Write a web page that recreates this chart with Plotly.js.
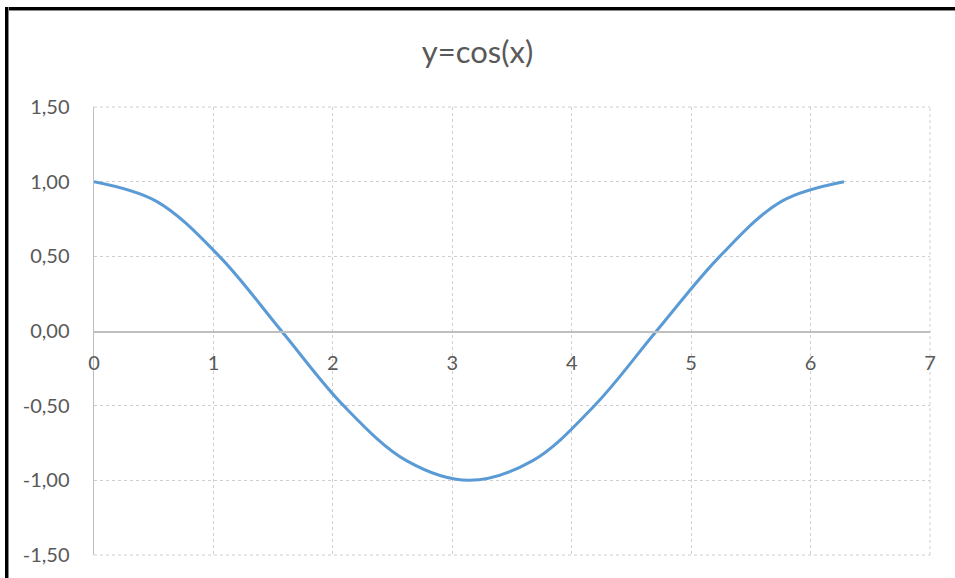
<!DOCTYPE html>
<html>
<head>
<meta charset="utf-8">
<script src="https://cdn.plot.ly/plotly-3.0.1.min.js"></script>
<style>
  html, body { margin: 0; padding: 0; background: #fff; overflow: hidden; }
  #wrap { position: relative; width: 955px; height: 578px; overflow: hidden; }
  #chart { position: absolute; left: 0; top: 0; width: 955px; height: 578px; }
  #frameTop { position: absolute; left: 5px; top: 7px; width: 950px; height: 3px; background: #000; border-bottom: 1px solid #888; pointer-events: none; }
  #frameLeft { position: absolute; left: 5px; top: 7px; width: 3px; height: 571px; background: #000; border-right: 1px solid #888; pointer-events: none; }
</style>
</head>
<body>
<div id="wrap">
  <div id="chart"></div>
  <div id="frameTop"></div>
  <div id="frameLeft"></div>
</div>
<script>
// Data (x in steps of about pi/6)
const xValues = [0, 0.52, 1.05, 1.57, 2.09, 2.62, 3.14, 3.67, 4.19, 4.71, 5.24, 5.76, 6.28];
const yValues = [1.00, 0.87, 0.50, 0.00, -0.50, -0.87, -1.00, -0.87, -0.50, 0.00, 0.50, 0.87, 1.00];
const chartTitle = 'y=cos(x)';
const xTickValues = [0, 1, 2, 3, 4, 5, 6, 7];
const xTickLabels = ['0', '1', '2', '3', '4', '5', '6', '7'];
const yTickValues = [-1.5, -1.0, -0.5, 0, 0.5, 1.0, 1.5];
const yTickLabels = ['-1,50', '-1,00', '-0,50', '0,00', '0,50', '1,00', '1,50'];

const fontFamily = 'Lato, "Open Sans", sans-serif';
const textColor = '#595959';
const gridColor = '#CFCFCF';

const trace = {
  x: xValues,
  y: yValues,
  type: 'scatter',
  mode: 'lines',
  line: { color: '#5B9BD5', width: 3, shape: 'spline', smoothing: 1 },
  hoverinfo: 'x+y'
};

const gridEdge = { type: 'line', xref: 'paper', yref: 'paper', layer: 'below',
                   line: { color: gridColor, width: 1, dash: 'dot' } };

const layout = {
  width: 955,
  height: 578,
  margin: { l: 94, r: 25, t: 107, b: 23, pad: 0 },
  paper_bgcolor: '#ffffff',
  plot_bgcolor: '#ffffff',
  showlegend: false,
  title: {
    text: chartTitle,
    font: { family: fontFamily, size: 31, color: textColor },
    x: 0.5,
    xanchor: 'center',
    y: 0.91,
    yanchor: 'middle'
  },
  shapes: [
    Object.assign({}, gridEdge, { x0: 0, x1: 1, y0: 1, y1: 1 }),
    Object.assign({}, gridEdge, { x0: 0, x1: 1, y0: 0, y1: 0 }),
    Object.assign({}, gridEdge, { x0: 1, x1: 1, y0: 0, y1: 1 })
  ],
  xaxis: {
    range: [0, 7],
    tickvals: xTickValues,
    ticktext: xTickLabels,
    anchor: 'free',
    position: 0.5,
    side: 'bottom',
    showline: true,
    linecolor: '#BFBFBF',
    linewidth: 1.5,
    ticks: 'outside',
    ticklen: 13,
    tickcolor: 'rgba(0,0,0,0)',
    showgrid: true,
    gridcolor: gridColor,
    griddash: 'dot',
    gridwidth: 1,
    zeroline: false,
    tickfont: { family: fontFamily, size: 20, color: textColor },
    fixedrange: true
  },
  yaxis: {
    range: [-1.5, 1.5],
    tickvals: yTickValues,
    ticktext: yTickLabels,
    showline: true,
    linecolor: '#BFBFBF',
    linewidth: 1.5,
    ticks: 'outside',
    ticklen: 19,
    tickcolor: 'rgba(0,0,0,0)',
    showgrid: true,
    gridcolor: gridColor,
    griddash: 'dot',
    gridwidth: 1,
    zeroline: false,
    tickfont: { family: fontFamily, size: 20, color: textColor },
    fixedrange: true
  }
};

Plotly.newPlot('chart', [trace], layout, { displayModeBar: false, staticPlot: true });
</script>
</body>
</html>
